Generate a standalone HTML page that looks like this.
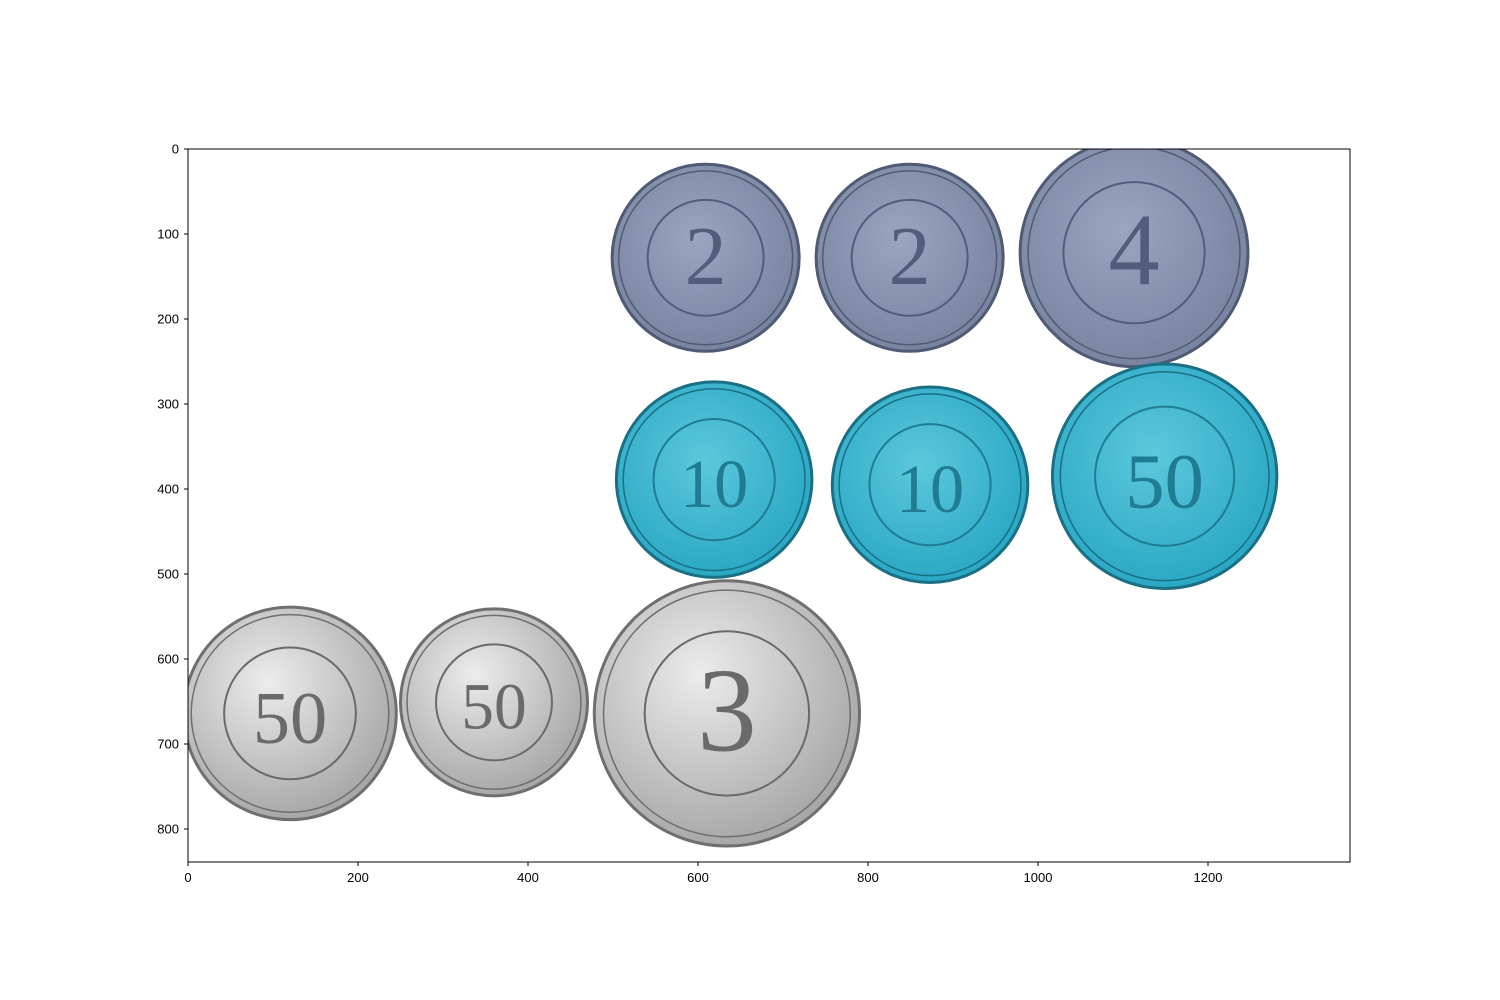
<!DOCTYPE html>
<html><head><meta charset="utf-8"><style>
body{margin:0;background:#fff;}
svg{display:block;font-family:"Liberation Sans",sans-serif;}
</style></head><body>
<svg id="chart" width="1500" height="1000">
<defs>
<radialGradient id="gBlue" cx="45%" cy="40%" r="60%"><stop offset="0" stop-color="#9aa6c0"/><stop offset="1" stop-color="#7884a0"/></radialGradient>
<radialGradient id="gCyan" cx="45%" cy="40%" r="60%"><stop offset="0" stop-color="#5cc8dc"/><stop offset="1" stop-color="#2aa8c4"/></radialGradient>
<radialGradient id="gSilver" cx="40%" cy="35%" r="65%"><stop offset="0" stop-color="#ececec"/><stop offset="1" stop-color="#a8a8a8"/></radialGradient>
<clipPath id="plotClip"><rect x="188" y="149" width="1162" height="713"/></clipPath>
</defs>
<g id="coins" clip-path="url(#plotClip)"></g>
<rect x="188" y="149" width="1162" height="713" fill="none" stroke="#000" stroke-width="1"/>
<g id="xticks"></g><g id="yticks"></g>
</svg>
<script>
const coinX=[609,849,1113,619,873,1149,120,360,634];
const coinY=[128,128,122,389,395,385,664,651,664];
const coinR=[110,110,134,115,115,132,125,110,156];
const coinType=["blue","blue","blue","cyan","cyan","cyan","silver","silver","silver"];
const coinLabel=["2","2","4","10","10","50","50","50","3"];
const xTicks=[0,200,400,600,800,1000,1200];
const yTicks=[0,100,200,300,400,500,600,700,800];
const sx=v=>188+v*0.85, sy=v=>149+v*0.85, sr=v=>v*0.85;
const NS="http://www.w3.org/2000/svg";
const fills={blue:"url(#gBlue)",cyan:"url(#gCyan)",silver:"url(#gSilver)"};
const strokes={blue:"#4f5a74",cyan:"#1a6f84",silver:"#6f6f6f"};
const inks={blue:"#515d7a",cyan:"#1f7c92",silver:"#6a6a6a"};
const coins=document.getElementById('coins');
coinX.forEach((x,i)=>{
  const g=document.createElementNS(NS,'g');
  
  
  const cx=sx(x),cy=sy(coinY[i]),r=sr(coinR[i]),t=coinType[i];
  const c=document.createElementNS(NS,'circle');
  c.setAttribute('cx',cx);c.setAttribute('cy',cy);c.setAttribute('r',r);
  c.setAttribute('fill',fills[t]);c.setAttribute('stroke',strokes[t]);c.setAttribute('stroke-width',3);
  g.appendChild(c);
  const c2=document.createElementNS(NS,'circle');
  c2.setAttribute('cx',cx);c2.setAttribute('cy',cy);c2.setAttribute('r',r*0.93);
  c2.setAttribute('fill','none');c2.setAttribute('stroke',strokes[t]);c2.setAttribute('stroke-width',1.5);
  g.appendChild(c2);
  const c3=document.createElementNS(NS,'circle');
  c3.setAttribute('cx',cx);c3.setAttribute('cy',cy);c3.setAttribute('r',r*0.62);
  c3.setAttribute('fill','none');c3.setAttribute('stroke',inks[t]);c3.setAttribute('stroke-width',2);
  g.appendChild(c3);
  const tx=document.createElementNS(NS,'text');
  tx.setAttribute('x',cx);tx.setAttribute('y',cy+r*0.28);
  tx.setAttribute('text-anchor','middle');tx.setAttribute('font-size',r*(coinLabel[i].length>1?0.7:0.9));
  tx.setAttribute('font-family','Liberation Serif, serif');
  tx.setAttribute('fill',inks[t]);tx.textContent=coinLabel[i];
  g.appendChild(tx);
  coins.appendChild(g);
});
const xg=document.getElementById('xticks');
xTicks.forEach(v=>{
  const l=document.createElementNS(NS,'line');
  l.setAttribute('x1',sx(v));l.setAttribute('x2',sx(v));l.setAttribute('y1',862);l.setAttribute('y2',866);l.setAttribute('stroke','#000');
  xg.appendChild(l);
  const t=document.createElementNS(NS,'text');
  
  
  t.setAttribute('x',sx(v));t.setAttribute('y',882);t.setAttribute('text-anchor','middle');t.setAttribute('font-size',13);
  t.textContent=v;xg.appendChild(t);
});
const yg=document.getElementById('yticks');
yTicks.forEach(v=>{
  const l=document.createElementNS(NS,'line');
  l.setAttribute('x1',184);l.setAttribute('x2',188);l.setAttribute('y1',sy(v));l.setAttribute('y2',sy(v));l.setAttribute('stroke','#000');
  yg.appendChild(l);
  const t=document.createElementNS(NS,'text');
  
  
  t.setAttribute('x',179);t.setAttribute('y',sy(v)+4.5);t.setAttribute('text-anchor','end');t.setAttribute('font-size',13);
  t.textContent=v;yg.appendChild(t);
});
</script>
</body></html>
